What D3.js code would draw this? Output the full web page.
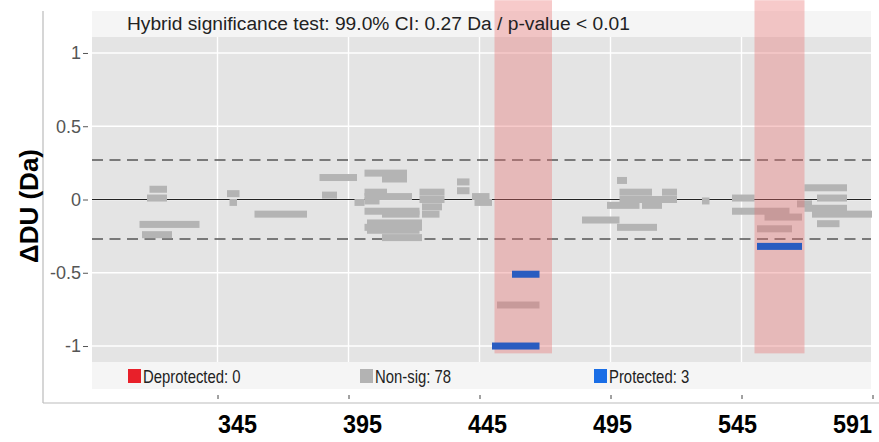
<!DOCTYPE html>
<html>
<head>
<meta charset="utf-8">
<script src="https://cdn.jsdelivr.net/npm/d3@7"></script>
<style>
  body { margin: 0; background: #fff; }
  svg { display: block; font-family: 'Liberation Sans', Arial, sans-serif; }
</style>
</head>
<body>
<div id="chart"></div>
<script>
// non-significant peptides: residue start, residue end, delta DU
const nsStart = [310, 309, 306, 307, 341, 342, 352, 378, 379, 392, 396, 403, 396, 396, 396, 396, 403, 397, 396, 397, 403,
  418, 418, 419, 419, 433, 433, 439, 440, 449, 497, 498, 498, 493, 507, 515, 512, 483, 497, 531,
  543, 543, 556, 553, 569, 572, 577, 572, 575, 577];
const nsEnd = [317, 317, 330, 319, 346, 345, 373, 393, 385, 396, 413, 413, 405, 415, 402, 418, 418, 419, 419, 418, 419,
  428, 428, 427, 426, 438, 438, 446, 447, 466, 501, 511, 515, 506, 515, 521, 521, 498, 513, 534,
  552, 566, 571, 567, 575, 589, 589, 589, 599, 586];
const nsValue = [0.07, 0.01, -0.17, -0.24, 0.04, -0.02, -0.10, 0.15, 0.03, -0.02, 0.18, 0.14, 0.05, 0.02, -0.01, -0.08, -0.10, -0.16, -0.19, -0.21, -0.26,
  0.05, 0.0, -0.05, -0.10, 0.12, 0.06, 0.02, -0.02, -0.72, 0.13, 0.05, 0.0, -0.04, -0.04, 0.05, 0.0, -0.14, -0.19, -0.01,
  0.01, -0.08, -0.12, -0.20, -0.03, 0.08, 0.01, -0.06, -0.10, -0.165];

// protected peptides
const protStart = [447, 455, 553];
const protEnd = [466, 466, 571];
const protValue = [-1.0, -0.51, -0.32];

// significant residue bands
const bandStart = [448, 552];
const bandEnd = [471, 572];
const bandTop = 1.36, bandBottom = -1.05;

const threshold = 0.27;
const yTicks = [-1, -0.5, 0, 0.5, 1];
const gridBreaks = [337.2, 389.6, 442, 494.4, 546.8];
const bottomTicks = [337.2, 389.6, 442, 494.4, 546.8, 599.2];
const residueLabels = [345, 395, 445, 495, 545, 591];
const legendLabels = ['Deprotected: 0', 'Non-sig: 78', 'Protected: 3'];
const legendColors = ['#e8202a', '#b3b3b3', '#1a6ee6'];
const headerText = 'Hybrid significance test: 99.0% CI: 0.27 Da / p-value < 0.01';

const W = 879, H = 442;
const panel = { left: 92, right: 871, top: 37, bottom: 362 };

const svg = d3.select('#chart').append('svg')
  .attr('width', W)
  .attr('height', H);

const x = d3.scaleLinear().domain([287, 598.6]).range([panel.left, panel.right]);
const y = d3.scaleLinear().domain([-1.109, 1.109]).range([panel.bottom, panel.top]);

// header and legend strips
svg.append('rect')
  .attr('x', panel.left).attr('y', 11)
  .attr('width', panel.right - panel.left).attr('height', panel.top - 11)
  .attr('fill', '#f5f5f5');
svg.append('rect')
  .attr('x', panel.left).attr('y', panel.bottom)
  .attr('width', panel.right - panel.left).attr('height', 27)
  .attr('fill', '#f5f5f5');

// panel background
svg.append('rect')
  .attr('x', panel.left).attr('y', panel.top)
  .attr('width', panel.right - panel.left).attr('height', panel.bottom - panel.top)
  .attr('fill', '#e4e4e4');

// grid
svg.append('g').selectAll('line.h')
  .data(yTicks)
  .enter().append('line')
  .attr('x1', panel.left).attr('x2', panel.right)
  .attr('y1', d => y(d)).attr('y2', d => y(d))
  .attr('stroke', '#fff').attr('stroke-width', 1.4);
svg.append('g').selectAll('line.v')
  .data(gridBreaks)
  .enter().append('line')
  .attr('x1', d => x(d)).attr('x2', d => x(d))
  .attr('y1', panel.top).attr('y2', panel.bottom)
  .attr('stroke', '#fff').attr('stroke-width', 1.4);

// zero line and threshold lines
svg.append('line')
  .attr('x1', panel.left).attr('x2', panel.right)
  .attr('y1', y(0)).attr('y2', y(0))
  .attr('stroke', '#222').attr('stroke-width', 1.2);
svg.append('g').selectAll('line')
  .data([threshold, -threshold])
  .enter().append('line')
  .attr('x1', panel.left).attr('x2', panel.right)
  .attr('y1', d => y(d)).attr('y2', d => y(d))
  .attr('stroke', '#555').attr('stroke-width', 1.5)
  .attr('stroke-dasharray', '11,6.5');

// non-significant peptides
const barH = 7;
svg.append('g').selectAll('rect')
  .data(nsStart.map((s, i) => ({ s, e: nsEnd[i], v: nsValue[i] })))
  .enter().append('rect')
  .attr('x', d => x(d.s))
  .attr('width', d => x(d.e) - x(d.s))
  .attr('y', d => y(d.v) - barH / 2)
  .attr('height', barH)
  .attr('fill', '#b4b4b4');

// significant bands
svg.append('g').selectAll('rect')
  .data(bandStart.map((s, i) => ({ s, e: bandEnd[i] })))
  .enter().append('rect')
  .attr('x', d => x(d.s))
  .attr('width', d => x(d.e) - x(d.s))
  .attr('y', y(bandTop))
  .attr('height', y(bandBottom) - y(bandTop))
  .attr('fill', 'rgb(233,112,112)')
  .attr('fill-opacity', 0.37);

// protected peptides
svg.append('g').selectAll('rect')
  .data(protStart.map((s, i) => ({ s, e: protEnd[i], v: protValue[i] })))
  .enter().append('rect')
  .attr('x', d => x(d.s))
  .attr('width', d => x(d.e) - x(d.s))
  .attr('y', d => y(d.v) - barH / 2)
  .attr('height', barH)
  .attr('fill', '#2a5cc0');

// y axis
const yAxis = svg.append('g')
  .attr('transform', `translate(${panel.left - 4},0)`)
  .call(d3.axisLeft(y).tickValues(yTicks).tickSize(5).tickPadding(2)
    .tickFormat(d => String(d)));
yAxis.select('.domain').remove();
yAxis.selectAll('line').attr('stroke', '#555');
yAxis.selectAll('text')
  .attr('fill', '#555')
  .style('font-size', '18px')
  .style('font-family', "'Liberation Sans', Arial, sans-serif");

// outer frame lines
svg.append('line')
  .attr('x1', 43).attr('x2', 43).attr('y1', 11).attr('y2', 403)
  .attr('stroke', '#bbb').attr('stroke-width', 1.2);
svg.append('line')
  .attr('x1', 43).attr('x2', W).attr('y1', 403).attr('y2', 403)
  .attr('stroke', '#bbb').attr('stroke-width', 1.2);

// bottom ticks
const xTickAxis = svg.append('g')
  .attr('transform', 'translate(0,395)')
  .call(d3.axisBottom(x).tickValues(bottomTicks).tickSize(4).tickFormat(''));
xTickAxis.select('.domain').remove();
xTickAxis.selectAll('line').attr('stroke', '#444');

// residue labels (condensed bold)
const xLabelAxis = svg.append('g')
  .attr('transform', 'translate(0,415)')
  .call(d3.axisBottom(x).tickValues(residueLabels).tickSize(0).tickPadding(0));
xLabelAxis.select('.domain').remove();
xLabelAxis.selectAll('text')
  .attr('fill', '#000')
  .attr('y', 0)
  .attr('dy', '0.71em')
  .attr('transform', 'scale(0.9,1)')
  .style('font-size', '26px')
  .style('font-weight', 'bold')
  .style('font-family', "'Liberation Sans', Arial, sans-serif");

// y title
svg.append('text')
  .attr('transform', 'translate(38,206) rotate(-90)')
  .attr('text-anchor', 'middle')
  .style('font-size', '26px')
  .style('font-weight', 'bold')
  .text('ΔDU (Da)');

// header
svg.append('text')
  .attr('x', 127).attr('y', 30)
  .attr('fill', '#222')
  .style('font-size', '19.2px')
  .text(headerText);

// legend (condensed text)
const legendX = [128, 360, 594];
const legend = svg.append('g').selectAll('g')
  .data(legendLabels)
  .enter().append('g')
  .attr('transform', (d, i) => `translate(${legendX[i]},369)`);
legend.append('rect')
  .attr('width', 13).attr('height', 14)
  .attr('fill', (d, i) => legendColors[i]);
legend.append('text')
  .attr('transform', 'translate(15,13.5) scale(0.85,1)')
  .attr('fill', '#222')
  .style('font-size', '17.5px')
  .text(d => d);
</script>
</body>
</html>
